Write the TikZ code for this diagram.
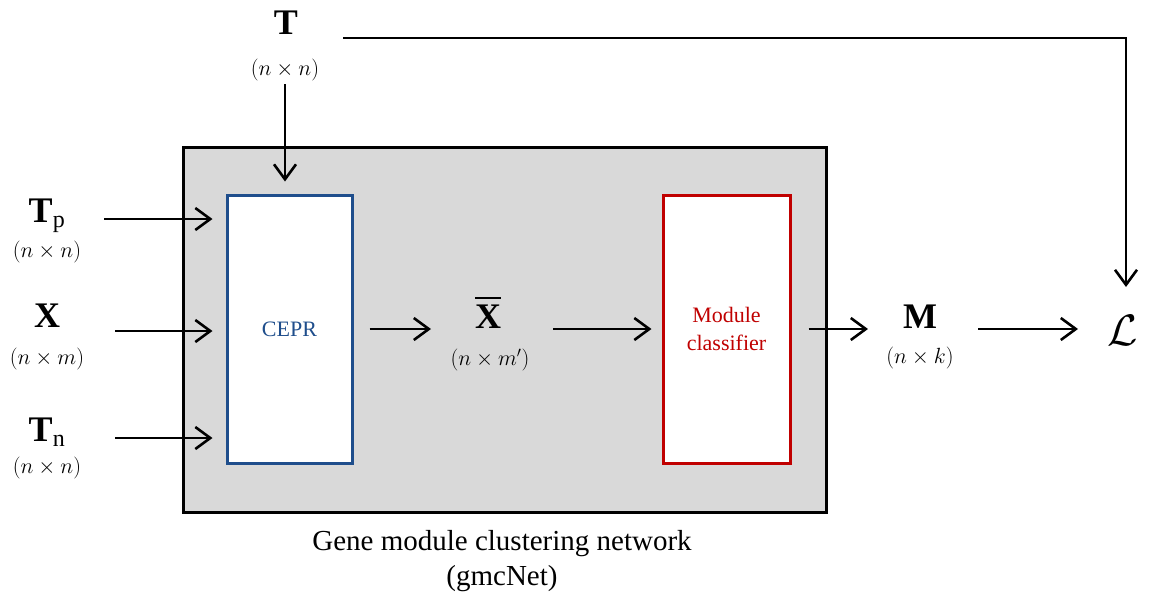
\documentclass[tikz,border=0pt]{standalone}
\usepackage{fix-cm}
\usepackage{fontspec}
\setmainfont{Liberation Serif}
\usetikzlibrary{arrows.meta,calc}
\definecolor{boxgray}{RGB}{217,217,217}
\definecolor{ceprblue}{RGB}{31,78,140}
\definecolor{modred}{RGB}{192,0,0}
\DeclareMathSizes{36}{36}{24}{18}
\DeclareMathSizes{22}{22}{15}{11}
\DeclareMathSizes{44}{44}{30}{22}
\newcommand{\barredsym}[1]{{\setbox0=\hbox{$\mathbf{#1}$}\vbox{\hrule height 2.6pt width \wd0\kern5pt\box0}}}
\begin{document}
\begin{tikzpicture}[x=1pt,y=-1pt,
  arr/.style={line width=2.6pt,-{Straight Barb[length=15pt,width=22pt,line width=2.6pt]}},
  sym/.style={inner sep=0pt,font=\fontsize{36}{40}\selectfont},
  dim/.style={inner sep=0pt,font=\fontsize{22}{26}\selectfont},
  blk/.style={line width=3pt,fill=white,inner sep=0pt,align=center,font=\fontsize{22}{26}\selectfont}]
\useasboundingbox (0,0) rectangle (1152,595);
% gray network box
\node[draw=black,line width=3pt,fill=boxgray,minimum width=643pt,minimum height=365pt,inner sep=0pt] (net) at (504.5,329.5) {};
\node[blk,draw=ceprblue,text=ceprblue,minimum width=125pt,minimum height=268pt] (cepr) at (289.5,329) {CEPR};
\node[blk,draw=modred,text=modred,minimum width=127pt,minimum height=268pt] (mod) at (726.5,329) {Module\\[2pt]classifier};
% caption
\node[align=center,inner sep=0pt,font=\fontsize{29}{35}\selectfont] (cap) at (502,561) {Gene module clustering network\\(gmcNet)};
% T on top
\node[sym] (T) at (286,23) {$\mathbf{T}$};
\node[dim] (Tdim) at (285,70) {$(n\times n)$};
% left inputs
\node[sym,anchor=base] (Tp) at (47,222) {$\mathbf{T}_{\mathrm{p}}$};
\node[dim] (Tpdim) at (47,252) {$(n\times n)$};
\node[sym] (X) at (47,316) {$\mathbf{X}$};
\node[dim] (Xdim) at (47,359) {$(n\times m)$};
\node[sym,anchor=base] (Tn) at (47,441) {$\mathbf{T}_{\mathrm{n}}$};
\node[dim] (Tndim) at (47,468) {$(n\times n)$};
% Xbar
\node[sym,anchor=base] (Xb) at (488,328) {\barredsym{X}};
\node[dim] (Xbdim) at (490,360) {$(n\times m')$};
% M
\node[sym] (M) at (920,317) {$\mathbf{M}$};
\node[dim] (Mdim) at (920,358) {$(n\times k)$};
% L
\node[inner sep=0pt,font=\fontsize{44}{48}\selectfont] (L) at (1123,330) {$\mathcal{L}$};
% connector coordinates
\coordinate (tpin) at (104,219);
\coordinate (xin) at (115,331);
\coordinate (tnin) at (115,438);
\coordinate (tdown) at (285,84);
\coordinate (xbin) at (431,329);
\coordinate (xbout) at (553,329);
\coordinate (min) at (868,329);
\coordinate (mout) at (978,329);
\coordinate (lin) at (1078,329);
\coordinate (topstart) at (343,38);
\coordinate (corner) at (1126,38);
\coordinate (ltop) at (1126,287);
% arrows
\draw[arr] (tdown) -- ($(tdown |- cepr.north)+(0,-12)$);
\draw[arr] (tpin) -- ($(tpin -| cepr.west)+(-13,0)$);
\draw[arr] (xin) -- ($(xin -| cepr.west)+(-13,0)$);
\draw[arr] (tnin) -- ($(tnin -| cepr.west)+(-13,0)$);
\draw[arr] ($(cepr.east)+(16,0)$) -- (xbin);
\draw[arr] (xbout) -- ($(mod.west)+(-10,0)$);
\draw[arr] ($(mod.east)+(17,0)$) -- (min);
\draw[arr] (mout) -- (lin);
\draw[arr] (topstart) -- (corner) -- (ltop);
\end{tikzpicture}
\end{document}
